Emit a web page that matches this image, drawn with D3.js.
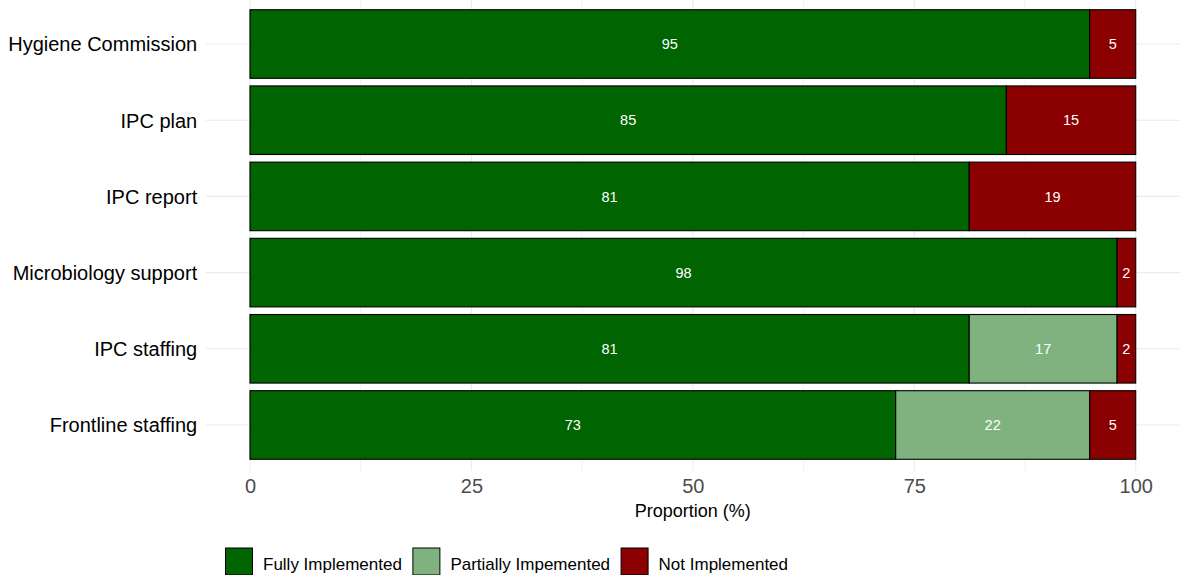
<!DOCTYPE html>
<html>
<head>
<meta charset="utf-8">
<script src="https://cdn.jsdelivr.net/npm/d3@7"></script>
<style>
  html, body { margin: 0; padding: 0; background: #fff; }
  svg { display: block; font-family: "Liberation Sans", Arial, sans-serif; }
</style>
</head>
<body>
<svg id="chart" width="1180" height="575"></svg>
<script>
// ---- data ----
const categories = ["Hygiene Commission", "IPC plan", "IPC report", "Microbiology support", "IPC staffing", "Frontline staffing"];
const seriesNames = ["Fully Implemented", "Partially Impemented", "Not Implemented"];
const fully     = [94.8, 85.4, 81.2, 97.9, 81.2, 72.9];
const partially = [0,    0,    0,    0,    16.7, 21.9];
const notImpl   = [5.2,  14.6, 18.8, 2.1,  2.1,  5.2];
const xTicks = [0, 25, 50, 75, 100];
const xMinor = [12.5, 37.5, 62.5, 87.5];
const colors = ["#006400", "#80b280", "#8b0000"];

// ---- layout ----
const svg = d3.select("#chart");
const panel = { left: 205.7, right: 1180, top: -1.7, bottom: 470.7 };

const x = d3.scaleLinear().domain([-5, 105]).range([panel.left, panel.right]);
const step = (panel.bottom - panel.top) / (categories.length + 0.2);
const y = d3.scaleBand()
  .domain(categories)
  .range([panel.top + 0.1 * step, panel.bottom - 0.1 * step])
  .paddingInner(0.1).paddingOuter(0.05);

// grid
const grid = svg.append("g");
grid.selectAll("line.minor").data(xMinor).join("line")
  .attr("x1", d => x(d)).attr("x2", d => x(d))
  .attr("y1", Math.max(0, panel.top)).attr("y2", panel.bottom)
  .attr("stroke", "#f2f2f2").attr("stroke-width", 1);
grid.selectAll("line.major").data(xTicks).join("line")
  .attr("x1", d => x(d)).attr("x2", d => x(d))
  .attr("y1", Math.max(0, panel.top)).attr("y2", panel.bottom)
  .attr("stroke", "#ebebeb").attr("stroke-width", 1.1);
grid.selectAll("line.hy").data(categories).join("line")
  .attr("x1", panel.left).attr("x2", panel.right)
  .attr("y1", d => y(d) + y.bandwidth() / 2).attr("y2", d => y(d) + y.bandwidth() / 2)
  .attr("stroke", "#ebebeb").attr("stroke-width", 1.1);

// stacked bars
const rows = categories.map((c, i) => ({ cat: c, v: [fully[i], partially[i], notImpl[i]] }));
const stack = d3.stack().keys([0, 1, 2]).value((d, k) => d.v[k]);
const layers = stack(rows);

layers.forEach((layer, k) => {
  const g = svg.append("g");
  layer.forEach(seg => {
    const val = seg[1] - seg[0];
    if (val <= 0) return;
    g.append("rect")
      .attr("x", x(seg[0]))
      .attr("y", y(seg.data.cat))
      .attr("width", x(seg[1]) - x(seg[0]))
      .attr("height", y.bandwidth())
      .attr("fill", colors[k])
      .attr("stroke", "#000")
      .attr("stroke-width", 1.1);
  });
});
layers.forEach((layer, k) => {
  layer.forEach(seg => {
    const val = seg[1] - seg[0];
    if (val <= 0) return;
    svg.append("text")
      .attr("x", x((seg[0] + seg[1]) / 2))
      .attr("y", y(seg.data.cat) + y.bandwidth() / 2)
      .attr("dy", "0.36em")
      .attr("text-anchor", "middle")
      .attr("fill", "#fff")
      .attr("font-size", "14.5px")
      .text(Math.round(val));
  });
});

// y axis labels
const yAxis = svg.append("g").attr("transform", `translate(${panel.left - 8.5},1)`)
  .call(d3.axisLeft(y).tickSize(0).tickPadding(0));
yAxis.select(".domain").remove();
yAxis.selectAll("text").attr("font-size", "20px").attr("fill", "#000")
  .attr("font-family", "Liberation Sans, Arial, sans-serif");

// x axis labels
const xAxis = svg.append("g").attr("transform", `translate(0,${panel.bottom})`)
  .call(d3.axisBottom(x).tickValues(xTicks).tickSize(0).tickPadding(8).tickFormat(d3.format("d")));
xAxis.select(".domain").remove();
xAxis.selectAll("text").attr("font-size", "20px").attr("fill", "#4d4d4d")
  .attr("font-family", "Liberation Sans, Arial, sans-serif");

// x title
svg.append("text")
  .attr("x", x(50))
  .attr("y", 517)
  .attr("text-anchor", "middle")
  .attr("font-size", "18px")
  .attr("fill", "#000")
  .text("Proportion (%)");

// legend
const legend = svg.append("g");
let lx = 225.5;
seriesNames.forEach((name, k) => {
  legend.append("rect")
    .attr("x", lx).attr("y", 548)
    .attr("width", 27).attr("height", 27)
    .attr("fill", colors[k]).attr("stroke", "#000").attr("stroke-width", 1);
  const t = legend.append("text")
    .attr("x", lx + 37.5).attr("y", 569.5)
    .attr("font-size", "17px").attr("fill", "#000")
    .text(name);
  const w = t.node().getComputedTextLength();
  lx = lx + 37.5 + w + 11;
});
</script>
</body>
</html>
